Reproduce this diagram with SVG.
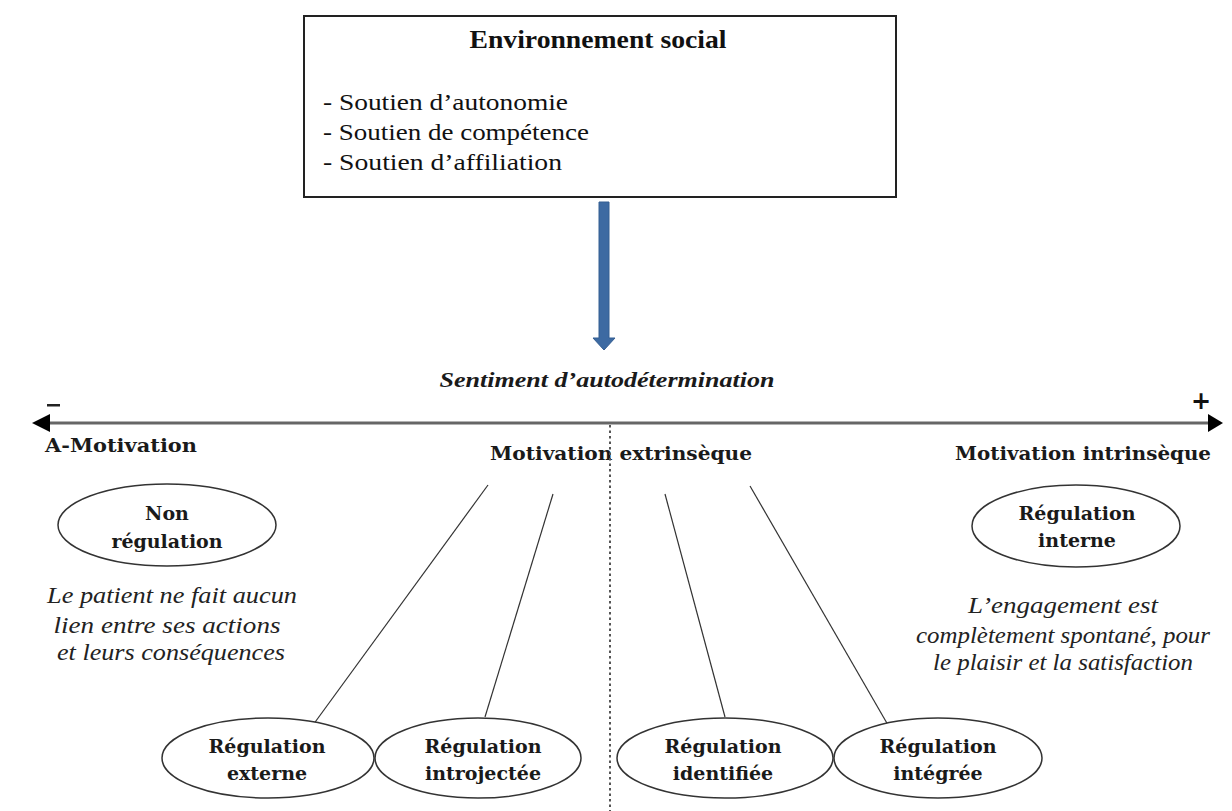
<svg xmlns="http://www.w3.org/2000/svg" width="1232" height="811" viewBox="0 0 1232 811">
<style>
.bold{font-family:'DejaVu Serif',serif;font-weight:bold;font-size:19px;fill:#1a1a1a}
.it{font-family:'Liberation Serif',serif;font-style:italic;font-size:23px;fill:#222}
.reg{font-family:'Liberation Serif',serif;font-size:24px;fill:#111}
.ell{fill:#fff;stroke:#333;stroke-width:1.5}
.conn{stroke:#333;stroke-width:1.2;fill:none}
</style>
<rect width="1232" height="811" fill="#fff"/>

<g id="env-box">
<rect x="304" y="16" width="592" height="181" fill="#fff" stroke="#222" stroke-width="2"/>
<text x="598" y="48" text-anchor="middle" font-family="Liberation Serif, serif" font-weight="bold" font-size="26" fill="#111" textLength="257" lengthAdjust="spacingAndGlyphs">Environnement social</text>
<text class="reg" font-family="Liberation Serif, serif" x="323" y="110" textLength="245" lengthAdjust="spacingAndGlyphs">- Soutien d’autonomie</text>
<text class="reg" font-family="Liberation Serif, serif" x="323" y="140" textLength="266" lengthAdjust="spacingAndGlyphs">- Soutien de compétence</text>
<text class="reg" font-family="Liberation Serif, serif" x="323" y="170" textLength="239" lengthAdjust="spacingAndGlyphs">- Soutien d’affiliation</text>
</g>

<g id="blue-arrow">
<path d="M599,202 L609,202 L609,338 L615,338 L604,350 L593,338 L599,338 Z" fill="#3d6aa2" stroke="#345e92" stroke-width="1"/>
</g>

<g id="axis">
<text x="607" y="387" text-anchor="middle" font-family="Liberation Serif, serif" font-weight="bold" font-style="italic" font-size="21" fill="#1a1a1a" textLength="335" lengthAdjust="spacingAndGlyphs">Sentiment d’autodétermination</text>
<line x1="50" y1="423" x2="1208" y2="423" stroke="#666" stroke-width="3"/>
<path d="M32,423 L50,414 L50,432 Z" fill="#000"/>
<path d="M1223,423 L1208,414 L1208,432 Z" fill="#000"/>
<rect x="47" y="404" width="13" height="2.5" fill="#222"/>
<text x="1201" y="409" text-anchor="middle" font-family="DejaVu Sans, sans-serif" font-weight="bold" font-size="24" fill="#111">+</text>
<text class="bold" x="45" y="452" textLength="152" lengthAdjust="spacingAndGlyphs">A-Motivation</text>
<text class="bold" x="490" y="460" textLength="262" lengthAdjust="spacingAndGlyphs">Motivation extrinsèque</text>
<text class="bold" x="955" y="460" textLength="256" lengthAdjust="spacingAndGlyphs">Motivation intrinsèque</text>
</g>

<g id="connectors">
<line x1="610" y1="425" x2="610" y2="811" stroke="#555" stroke-width="2" stroke-dasharray="2.5,3"/>
<line class="conn" x1="488" y1="485" x2="313" y2="725"/>
<line class="conn" x1="553" y1="494" x2="485" y2="717"/>
<line class="conn" x1="665" y1="494" x2="725" y2="717"/>
<line class="conn" x1="750" y1="486" x2="888" y2="725"/>
</g>

<g id="non-regulation">
<ellipse class="ell" cx="167" cy="525" rx="109" ry="41"/>
<text class="bold" x="167" y="520" text-anchor="middle">Non</text>
<text class="bold" x="167" y="548" text-anchor="middle">régulation</text>
<text class="it" font-family="Liberation Serif, serif" x="172" y="603" text-anchor="middle" textLength="250" lengthAdjust="spacingAndGlyphs">Le patient ne fait aucun</text>
<text class="it" font-family="Liberation Serif, serif" x="167" y="633" text-anchor="middle" textLength="227" lengthAdjust="spacingAndGlyphs">lien entre ses actions</text>
<text class="it" font-family="Liberation Serif, serif" x="171" y="660" text-anchor="middle" textLength="228" lengthAdjust="spacingAndGlyphs">et leurs conséquences</text>
</g>

<g id="regulation-interne">
<ellipse class="ell" cx="1076" cy="526" rx="104" ry="41"/>
<text class="bold" x="1077" y="520" text-anchor="middle">Régulation</text>
<text class="bold" x="1077" y="547" text-anchor="middle">interne</text>
<text class="it" font-family="Liberation Serif, serif" x="1063" y="613" text-anchor="middle" textLength="190" lengthAdjust="spacingAndGlyphs">L’engagement est</text>
<text class="it" font-family="Liberation Serif, serif" x="1063" y="643" text-anchor="middle" textLength="294" lengthAdjust="spacingAndGlyphs">complètement spontané, pour</text>
<text class="it" font-family="Liberation Serif, serif" x="1063" y="670" text-anchor="middle" textLength="260" lengthAdjust="spacingAndGlyphs">le plaisir et la satisfaction</text>
</g>

<g id="regulation-externe">
<ellipse class="ell" cx="268" cy="758" rx="106" ry="40"/>
<text class="bold" x="267" y="753" text-anchor="middle">Régulation</text>
<text class="bold" x="267" y="780" text-anchor="middle">externe</text>
</g>

<g id="regulation-introjectee">
<ellipse class="ell" cx="478" cy="758" rx="103" ry="40"/>
<text class="bold" x="483" y="753" text-anchor="middle">Régulation</text>
<text class="bold" x="483" y="780" text-anchor="middle">introjectée</text>
</g>

<g id="regulation-identifiee">
<ellipse class="ell" cx="725" cy="758" rx="108" ry="40"/>
<text class="bold" x="723" y="753" text-anchor="middle">Régulation</text>
<text class="bold" x="723" y="780" text-anchor="middle">identifiée</text>
</g>

<g id="regulation-integree">
<ellipse class="ell" cx="938" cy="758" rx="104" ry="40"/>
<text class="bold" x="938" y="753" text-anchor="middle">Régulation</text>
<text class="bold" x="938" y="780" text-anchor="middle">intégrée</text>
</g>
</svg>
